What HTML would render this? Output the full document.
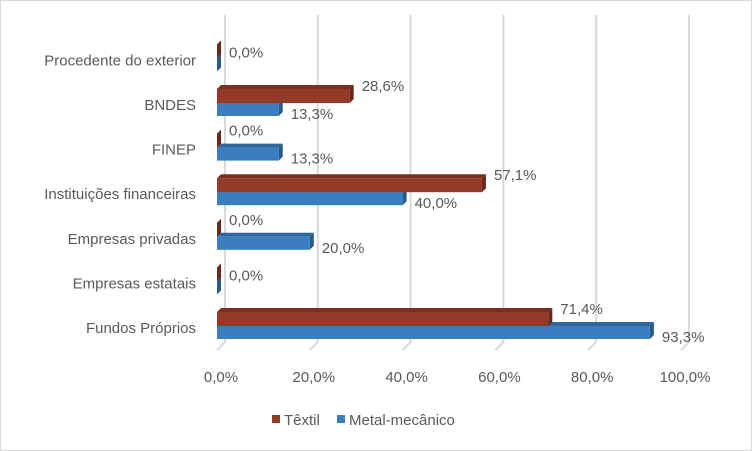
<!DOCTYPE html>
<html><head><meta charset="utf-8"><style>
body{margin:0;background:#fff}
svg{display:block;font-family:"Liberation Sans",sans-serif}
</style></head><body>
<svg id="c" width="752" height="451">
<rect x="0.5" y="0.5" width="751" height="450" fill="#fff" stroke="#d9d9d9"/>
<g id="grid"></g><g id="bars"></g><g id="labels"></g>
<g>
<rect x="272" y="415" width="8" height="8" fill="#943a29"/>
<text x="284" y="425" font-size="15" fill="#595959">Têxtil</text>
<rect x="337" y="415" width="8" height="8" fill="#3a7ebf"/>
<text x="349" y="425" font-size="15" fill="#595959">Metal-mecânico</text>
</g>
</svg>
<script>
const categories=["Fundos Próprios","Empresas estatais","Empresas privadas","Instituições financeiras","FINEP","BNDES","Procedente do exterior"];
const textil=[71.4,0,0,57.1,0,28.6,0];
const metal=[93.3,0,20.0,40.0,13.3,13.3,0];
const ticks=[0,20,40,60,80,100];
const NS="http://www.w3.org/2000/svg";
function mk(t,a,p){const e=document.createElementNS(NS,t);for(const k in a)e.setAttribute(k,a[k]);p.appendChild(e);return e;}
const x0=217,W=464,dx=8,dy=4;
const xs=v=>x0+v/100*W;
const ys=i=>326-i*44.6;
const grid=document.getElementById('grid'),bars=document.getElementById('bars'),labels=document.getElementById('labels');
ticks.forEach(t=>{
 const gx=xs(t)+dx;
 let l=mk('path',{d:`M${gx} 15 L${gx} 342 L${gx-dx} 350`,stroke:'#d9d9d9','stroke-width':2,fill:'none'},grid);
 
 
 let tx=mk('text',{x:xs(t)+4,y:382,'font-size':15,fill:'#595959','text-anchor':'middle'},grid);
 tx.textContent=t.toFixed(1).replace('.',',')+'%';
 
 
});
function bar(v,y,h,front,top,side,name){
 const g=mk('g',{},bars);
 
 
 const x1=xs(v);
 mk('polygon',{points:`${x0},${y} ${x0+dy},${y-dy} ${x1+dy},${y-dy} ${x1},${y}`,fill:top},g);
 mk('polygon',{points:`${x1},${y} ${x1+dy},${y-dy} ${x1+dy},${y+h-dy} ${x1},${y+h}`,fill:side},g);
 mk('rect',{x:x0,y:y,width:Math.max(0,x1-x0),height:h,fill:front},g);
}
categories.forEach((c,i)=>{
 const yc=ys(i);
 bar(metal[i],yc,13,'#3a7ebf','#2f669c','#275a8a','bar-metal-'+i);
 bar(textil[i],yc-14,14,'#943a29','#7a2f21','#6a281c','bar-textil-'+i);
 let t=mk('text',{x:196,y:yc+7,'font-size':15,fill:'#595959','text-anchor':'end'},labels);
 t.textContent=c;
 
 
 const fmt=v=>v.toFixed(1).replace('.',',')+'%';
 if(!(textil[i]===0&&metal[i]===0)){
  let a=mk('text',{x:xs(textil[i])+12,y:yc-12,'font-size':15,fill:'#595959'},labels);
  a.textContent=fmt(textil[i]);
  
  
 }
 let b=mk('text',{x:xs(metal[i])+12,y:yc+(textil[i]===0&&metal[i]===0?-1:16),'font-size':15,fill:'#595959'},labels);
 b.textContent=fmt(metal[i]);
 
 
});
</script>
</body></html>
